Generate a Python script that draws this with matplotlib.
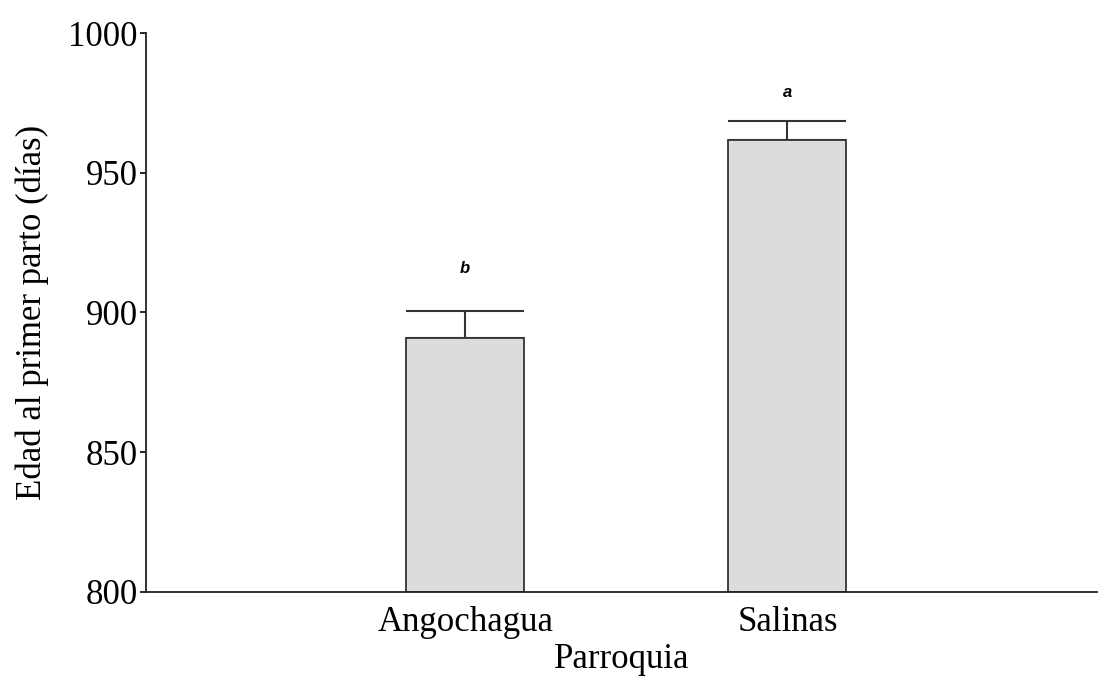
import matplotlib
matplotlib.use("Agg")
import matplotlib.pyplot as plt

categories = ["Angochagua", "Salinas"]
means = [890.9, 961.6]
errors = [9.6, 6.9]
letters = ["b", "a"]
letter_y = [915.9, 978.9]
yticks = [800, 850, 900, 950, 1000]

plt.rcParams['font.family'] = ['Liberation Serif', 'DejaVu Serif']

fig = plt.figure(figsize=(10.98, 6.79), dpi=100)
ax = fig.add_axes([0.133, 0.1286, 0.866, 0.8224])

x = list(range(len(categories)))
width = 0.366
ax.bar(x, [m - 800 for m in means], bottom=800, width=width, color="#dcdcdc",
       edgecolor="#333333", linewidth=1.3, zorder=2)
ax.errorbar(x, means, yerr=[[0]*len(errors), errors], fmt="none", ecolor="#333333",
            elinewidth=1.5, capsize=42.3, capthick=1.5, zorder=1)
for xi, ly, lt in zip(x, letter_y, letters):
    ax.text(xi, ly, lt, ha="center", va="center", fontsize=12, fontweight="bold",
            fontstyle="italic", family=["Liberation Sans", "DejaVu Sans"])

ax.set_xlim(-0.99, 1.96)
ax.set_ylim(800, 1000)
ax.set_yticks(yticks)
ax.set_xticks(x)
ax.set_xticklabels(categories)
ax.tick_params(axis="y", direction="out", length=4, width=1.2, labelsize=25, pad=2)
ax.tick_params(axis="x", length=0, labelsize=25, pad=10)
for s in ["top", "right"]:
    ax.spines[s].set_visible(False)
for s in ["left", "bottom"]:
    ax.spines[s].set_linewidth(1.3)
    ax.spines[s].set_color("#222222")
ax.set_xlabel("Parroquia", fontsize=25, labelpad=3)
ax.set_ylabel("Edad al primer parto (días)", fontsize=25, labelpad=14)

fig.savefig("out.png", dpi=100)
